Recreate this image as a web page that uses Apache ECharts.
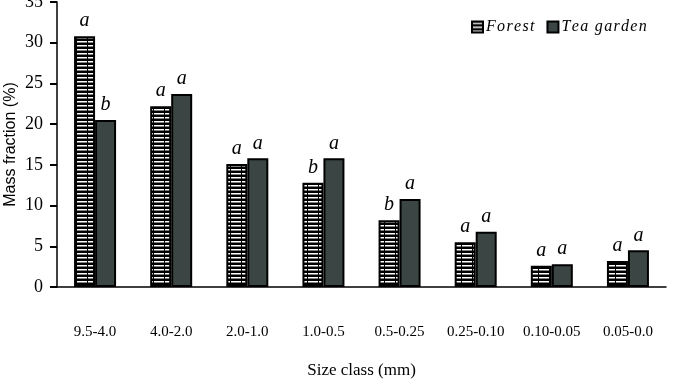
<!DOCTYPE html>
<html>
<head>
<meta charset="utf-8">
<script src="https://cdn.jsdelivr.net/npm/echarts@6/dist/echarts.min.js"></script>
<style>html,body{margin:0;padding:0;background:#fff}#main{width:690px;height:384px}</style>
</head>
<body>
<div id="main"></div>
<script>
var categories = ['9.5-4.0','4.0-2.0','2.0-1.0','1.0-0.5','0.5-0.25','0.25-0.10','0.10-0.05','0.05-0.0'];
var forestValues = [30.8, 22.2, 15.1, 12.8, 8.2, 5.5, 2.6, 3.2];
var teaValues = [20.5, 23.7, 15.8, 15.8, 10.8, 6.8, 2.8, 4.5];
var forestLetters = ['a','a','a','b','b','a','a','a'];
var teaLetters = ['b','a','a','a','a','a','a','a'];
var yTicks = [0, 5, 10, 15, 20, 25, 30, 35];

// black bar with white horizontal dashes
var pat = document.createElement('canvas');
pat.width = 11; pat.height = 4;
var ctx = pat.getContext('2d');
ctx.fillStyle = '#000';
ctx.fillRect(0, 0, 11, 4);
ctx.fillStyle = '#fff';
ctx.fillRect(0, 1, 10, 1.5);

var serif = '"Liberation Serif", "Times New Roman", serif';
var chart = echarts.init(document.getElementById('main'));
chart.setOption({
	animation: false,
	grid: {left: 57, right: 24, top: 2, bottom: 97, outerBoundsMode: 'none', containLabel: false},
	legend: {
		top: 14, left: 466,
		icon: 'rect',
		itemWidth: 11, itemHeight: 11, itemGap: 12,
		textStyle: {fontFamily: serif, fontStyle: 'italic', fontSize: 16, color: '#000', padding: [0, 0, 0, -2]},
		formatter: function (n) { return n.split('').join('\u200a'); },
		data: ['Forest', 'Tea garden']
	},
	xAxis: {
		type: 'category',
		data: categories,
		name: 'Size class (mm)',
		nameLocation: 'middle',
		nameGap: 75,
		nameTextStyle: {fontFamily: serif, fontSize: 17, color: '#000'},
		axisLine: {lineStyle: {color: '#000', width: 1.5}},
		axisTick: {inside: false, length: 6, lineStyle: {width: 2.5, color: '#000'}},
		axisLabel: {interval: 0, margin: 38, fontFamily: serif, fontSize: 15, color: '#000'}
	},
	yAxis: {
		type: 'value',
		min: yTicks[0], max: yTicks[yTicks.length - 1], interval: 5,
		name: 'Mass fraction (%)',
		nameLocation: 'middle',
		nameGap: 38,
		nameMoveOverlap: false,
		nameTextStyle: {fontFamily: '"Liberation Sans", Arial, sans-serif', fontSize: 16, color: '#000'},
		axisLine: {show: true, lineStyle: {color: '#000', width: 1.5}},
		axisTick: {show: true, length: 7, lineStyle: {width: 2, color: '#000'}},
		axisLabel: {margin: 14, fontFamily: serif, fontSize: 18, color: '#000'},
		splitLine: {show: false}
	},
	series: [
		{
			name: 'Forest', type: 'bar', data: forestValues,
			barWidth: 21, barGap: '0%',
			itemStyle: {color: {image: pat, repeat: 'repeat'}, borderColor: '#000', borderWidth: 2},
			label: {
				show: true, position: 'top', distance: 5,
				formatter: function (p) { return forestLetters[p.dataIndex]; },
				fontFamily: serif, fontStyle: 'italic', fontSize: 20, color: '#000'
			}
		},
		{
			name: 'Tea garden', type: 'bar', data: teaValues,
			barWidth: 21,
			itemStyle: {color: '#3b4644', borderColor: '#000', borderWidth: 2},
			label: {
				show: true, position: 'top', distance: 5,
				formatter: function (p) { return teaLetters[p.dataIndex]; },
				fontFamily: serif, fontStyle: 'italic', fontSize: 20, color: '#000'
			}
		}
	]
});
</script>
</body>
</html>
